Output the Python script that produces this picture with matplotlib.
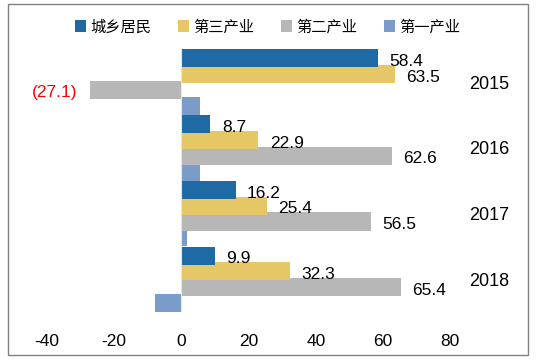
import matplotlib
matplotlib.use("Agg")
import matplotlib.pyplot as plt
from matplotlib.patches import Rectangle, Patch

plt.rcParams['font.family'] = ['Liberation Sans', 'Noto Sans CJK SC', 'DejaVu Sans']

years = ['2015', '2016', '2017', '2018']
series_names = ['城乡居民', '第三产业', '第二产业', '第一产业']
urban_rural = [58.4, 8.7, 16.2, 9.9]
tertiary = [63.5, 22.9, 25.4, 32.3]
secondary = [-27.1, 62.6, 56.5, 65.4]
primary = [5.5, 5.7, 1.8, -7.8]
labelled = [True, True, True, False]
colors = ['#1F6AA5', '#E5C865', '#B7B7B7', '#7B9BC9']
xticks = [-40, -20, 0, 20, 40, 60, 80]

W, H = 537, 360
fig = plt.figure(figsize=(W / 100, H / 100), dpi=100)

# axes placement (pixels)
x_left, x_right = 46.7, 450.3
y_top, y_bot = 49.35, 312.15
ax = fig.add_axes([x_left / W, 1 - y_bot / H, (x_right - x_left) / W, (y_bot - y_top) / H])

all_series = [urban_rural, tertiary, secondary, primary]
h = 0.274
s = 0.2405
offsets = [-1.5 * s, -0.5 * s, 0.5 * s, 1.5 * s]

for k in [3, 2, 1, 0]:
    vals = all_series[k]
    ys = [i + offsets[k] for i in range(len(years))]
    ax.barh(ys, vals, height=h, color=colors[k], edgecolor='none', zorder=2 + (3 - k) * 0.1)
    if labelled[k]:
        for y, v in zip(ys, vals):
            if v >= 0:
                ax.annotate(f"{v:.1f}", xy=(v, y), xytext=(8.2, -5.5), textcoords='offset points',
                            ha='left', va='baseline', fontsize=12.5, color='black')
            else:
                ax.annotate(f"({abs(v):.1f})", xy=(v, y), xytext=(-9.0, -4.8), textcoords='offset points',
                            ha='right', va='baseline', fontsize=12.5, color='#FF0000')

for i, yr in enumerate(years):
    ax.annotate(yr, xy=(91.5, i), xytext=(0, -4.7), textcoords='offset points',
                ha='center', va='baseline', fontsize=13, color='black', annotation_clip=False)

ax.axvline(0, color='#E4E4E4', lw=0.8, zorder=3)

ax.set_xlim(-40, 80)
ax.set_ylim(3.5, -0.5)
ax.set_xticks(xticks)
ax.set_xticklabels([str(t) for t in xticks])
ax.set_yticks([])
ax.tick_params(axis='x', length=0, pad=15.5, labelsize=12.5, colors='black')
for sp in ax.spines.values():
    sp.set_visible(False)
ax.patch.set_visible(False)

handles = [Patch(facecolor=c, edgecolor='none') for c in colors]
fig.legend(handles, series_names, loc='center', bbox_to_anchor=(267.6 / W, 1 - 27 / H),
           ncol=4, frameon=False, handlelength=0.72, handleheight=0.8,
           handletextpad=0.33, columnspacing=1.7, borderaxespad=0, borderpad=0,
           prop={'family': ['Noto Sans CJK SC'], 'size': 11})

# outer frame
fig.add_artist(Rectangle((8.3 / W, 1 - 355.3 / H), (527.7 - 8.3) / W, (355.3 - 4.3) / H,
                         transform=fig.transFigure, fill=False, edgecolor='#808080', lw=1.0))

fig.savefig('out.png', dpi=100)
